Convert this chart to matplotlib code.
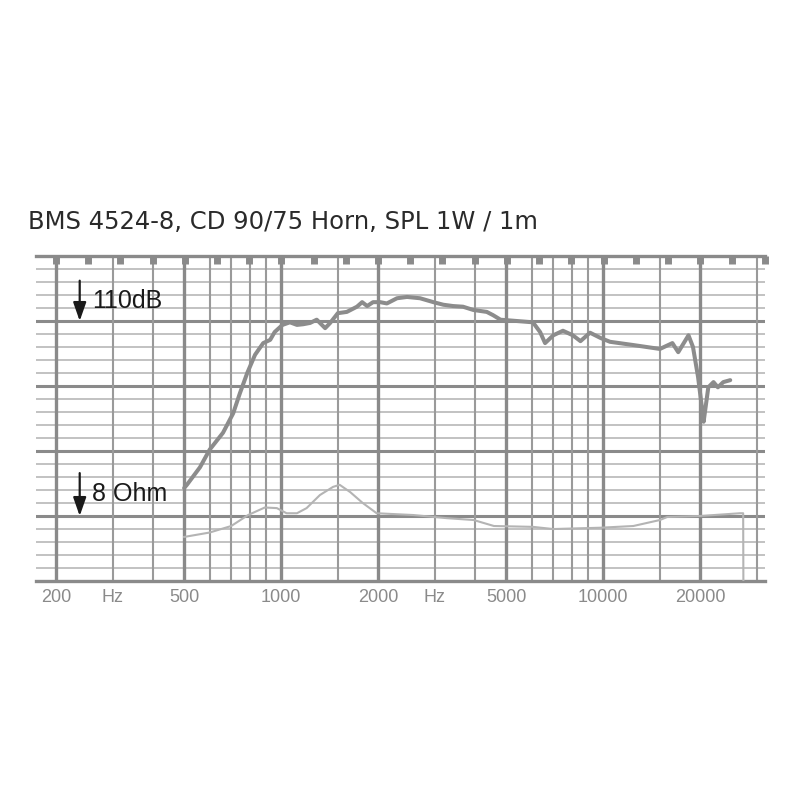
import numpy as np
import matplotlib
matplotlib.use("Agg")
import matplotlib.pyplot as plt

# ---- data ----
spl_freq = [500, 510, 560, 600, 660, 710, 745, 785, 830, 880, 925, 955, 1010, 1065,
            1120, 1170, 1230, 1290, 1370, 1420, 1500, 1600, 1720, 1785, 1850, 1930,
            2030, 2130, 2290, 2460, 2700, 2970, 3190, 3420, 3670, 3950, 4350, 4550,
            4800, 6050, 6370, 6600, 7000, 7500, 8050, 8500, 9100, 9800, 10500, 12400,
            15000, 16400, 17100, 18400, 19000, 19700, 20300, 20500, 21200, 22000,
            22700, 23600, 24800]
spl_db = [84.3, 84.8, 87.5, 90.2, 92.8, 95.8, 98.9, 102.0, 104.8, 106.6, 107.1, 108.3,
          109.4, 109.8, 109.4, 109.5, 109.7, 110.2, 108.9, 109.7, 111.2, 111.4, 112.2,
          112.9, 112.3, 112.9, 112.9, 112.7, 113.5, 113.7, 113.5, 112.9, 112.5, 112.3,
          112.2, 111.7, 111.4, 110.9, 110.2, 109.8, 108.3, 106.6, 107.8, 108.5, 107.8,
          106.9, 108.2, 107.4, 106.8, 106.3, 105.7, 106.6, 105.2, 107.8, 106.0, 101.4,
          96.3, 94.5, 99.8, 100.6, 99.8, 100.6, 100.9]

imp_freq = [500, 600, 700, 790, 890, 970, 1040, 1120, 1200, 1320, 1450, 1520, 1640,
            1790, 1980, 2570, 3270, 3960, 4580, 6050, 6990, 9800, 12400, 15000, 15800,
            20000, 26600, 27200, 27250]
imp_ohm = [5.52, 5.97, 6.7, 8.14, 9.3, 9.2, 8.4, 8.4, 9.2, 11.6, 13.4, 13.9, 12.2,
           10.1, 8.4, 8.14, 7.7, 7.45, 6.7, 6.6, 6.35, 6.5, 6.7, 7.45, 7.86,
           8.0, 8.4, 8.4, 2.0]

tick_freqs = [200, 300, 500, 1000, 2000, 3000, 5000, 10000, 20000]
tick_labels = ["200", "Hz", "500", "1000", "2000", "Hz", "5000", "10000", "20000"]
bold_lines = [200, 500, 1000, 2000, 5000, 10000, 20000]
thin_lines = [300, 400, 600, 700, 800, 900, 1500, 3000, 4000, 6000, 7000, 8000,
              9000, 15000, 30000]

title = "BMS 4524-8, CD 90/75 Horn, SPL 1W / 1m"

# impedance drawn on the dB grid: 8 Ohm sits on the 80 dB line
imp_y = [80 + 20 * np.log10(z / 8.0) for z in imp_ohm]

fig = plt.figure(figsize=(8, 8), dpi=100)
fig.patch.set_facecolor("white")
ax = fig.add_axes([0.045, 0.27375, 0.9115, 0.40625])
ax.set_xscale("log")
ax.set_xlim(173.4, 31840)
ax.set_ylim(70, 120)

# horizontal grid
for v in np.arange(72, 120, 2):
    if v % 10 == 0:
        ax.axhline(v, color="#8a8a8a", lw=2.2, zorder=1)
    else:
        ax.axhline(v, color="#b8b8b8", lw=1.2, zorder=1)
# vertical grid
for f in bold_lines:
    ax.axvline(f, color="#8a8a8a", lw=2.4, zorder=1)
for f in thin_lines:
    ax.axvline(f, color="#9a9a9a", lw=1.5, zorder=1)

for s in ["left", "right"]:
    ax.spines[s].set_visible(False)
for s in ["top", "bottom"]:
    ax.spines[s].set_color("#8a8a8a")
    ax.spines[s].set_linewidth(2.4)

# top notches every 1/10 decade
ax.xaxis.remove_overlapping_locs = False
notch = [200 * 10 ** (k / 10) for k in range(0, 23)]
ax.set_xticks(notch, minor=True)
ax.set_xticklabels([""] * len(notch), minor=True)
ax.tick_params(axis="x", which="minor", bottom=False, top=True, direction="in",
               length=6, width=5, color="#8a8a8a")

ax.set_xticks(tick_freqs)
ax.set_xticklabels(tick_labels)
ax.tick_params(axis="x", which="major", length=0, pad=6, labelsize=13,
               labelcolor="#8a8a8a")
for lab in ax.get_xticklabels():
    lab.set_family("Liberation Sans")
ax.set_yticks([])

# curves
ax.plot(imp_freq, imp_y, color="#b4b4b4", lw=1.5, zorder=3)
ax.plot(spl_freq, spl_db, color="#8c8c8c", lw=2.9, zorder=4,
        solid_joinstyle="round", solid_capstyle="round")

# labels with arrows
arrow_x = 237
astyle = "-|>,head_length=0.8,head_width=0.28"
ax.annotate("", xy=(arrow_x, 110), xytext=(arrow_x, 116.2),
            arrowprops=dict(arrowstyle=astyle, lw=1.6, color="#1a1a1a",
                            mutation_scale=14, shrinkA=0, shrinkB=0), zorder=5)
ax.text(259, 113.1, "110dB", fontsize=18, family="Liberation Sans",
        color="#1a1a1a", va="center", ha="left", zorder=5)
ax.annotate("", xy=(arrow_x, 80), xytext=(arrow_x, 86.6),
            arrowprops=dict(arrowstyle=astyle, lw=1.6, color="#1a1a1a",
                            mutation_scale=14, shrinkA=0, shrinkB=0), zorder=5)
ax.text(259, 83.4, "8 Ohm", fontsize=18, family="Liberation Sans",
        color="#1a1a1a", va="center", ha="left", zorder=5)

fig.text(28 / 800, 1 - 222 / 800, title, fontsize=17.5, family="DejaVu Sans",
         color="#2a2a2a", va="center", ha="left")

fig.savefig("out.png", dpi=100, facecolor="white")
